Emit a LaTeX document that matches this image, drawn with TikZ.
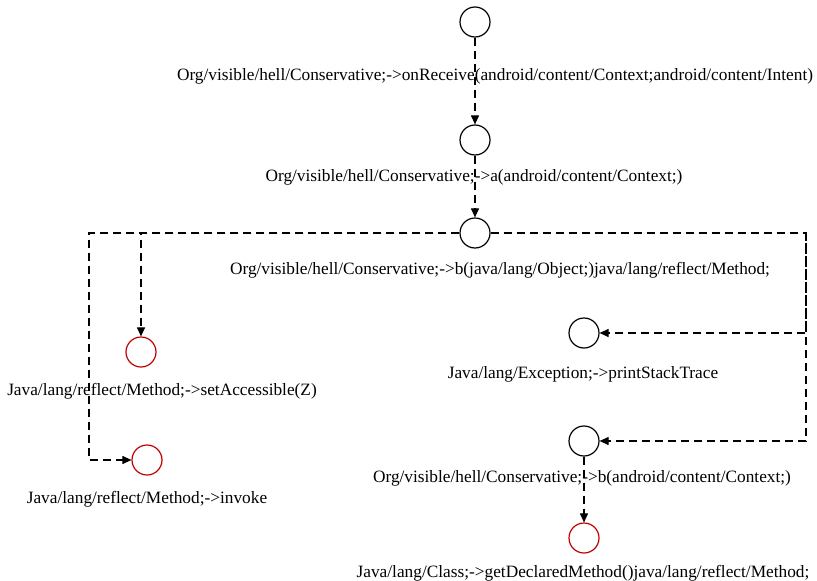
\documentclass[tikz,border=0pt]{standalone}
\usepackage{fontspec}
\setmainfont{Liberation Serif}
\usetikzlibrary{arrows.meta,positioning}
\tikzset{
  call/.style={circle, draw=black, line width=1.2pt, minimum size=30pt, inner sep=0pt},
  api/.style={call, draw=red!75!black},
  flow/.style={-{Triangle[length=9pt,width=8pt]}, line width=1.1pt, dash pattern=on 8pt off 5pt},
  lbl/.style={font=\fontsize{17.3}{20}\selectfont, inner sep=0pt}
}

\begin{document}
\begin{tikzpicture}[x=1pt,y=-1pt]
  \useasboundingbox (0,0) rectangle (817,581);
  % call nodes
  \node[call] (recv) at (475,22) {};
  \node[call] (ameth) at (475,140) {};
  \node[call] (bobj) at (475,233) {};
  \node[api] (setacc) at (141,352) {};
  \node[api] (invk) at (147,460) {};
  \node[call] (trace) at (584,333) {};
  \node[call] (bctx) at (584,441) {};
  \node[api] (getdm) at (584,538) {};
  % labels
  \node[lbl] (recvl) at (495,76) {Org/visible/hell/Conservative;->onReceive(android/content/Context;android/content/Intent)};
  \node[lbl] (amethl) at (474,177) {Org/visible/hell/Conservative;->a(android/content/Context;)};
  \node[lbl] (bobjl) at (500,270) {Org/visible/hell/Conservative;->b(java/lang/Object;)java/lang/reflect/Method;};
  \node[lbl] (setaccl) at (162,391) {Java/lang/reflect/Method;->setAccessible(Z)};
  \node[lbl] (invkl) at (147,499) {Java/lang/reflect/Method;->invoke};
  \node[lbl] (tracel) at (583,374) {Java/lang/Exception;->printStackTrace};
  \node[lbl] (bctxl) at (582,478) {Org/visible/hell/Conservative;->b(android/content/Context;)};
  \node[lbl] (getdml) at (583,573) {Java/lang/Class;->getDeclaredMethod()java/lang/reflect/Method;};
  % corners
  \coordinate (lft) at (89,233);
  \coordinate (rgt) at (806,233);
  % edges
  \draw[flow] (recv) -- (ameth);
  \draw[flow] (ameth) -- (bobj);
  \draw[flow] (bobj.west) -| (setacc.north);
  \draw[flow] (bobj.west) -- (lft) |- (invk.west);
  \draw[flow] (bobj.east) -- (rgt) |- (trace.east);
  \draw[flow] (rgt) |- (bctx.east);
  \draw[flow] (bctx) -- (getdm);
\end{tikzpicture}
\end{document}
